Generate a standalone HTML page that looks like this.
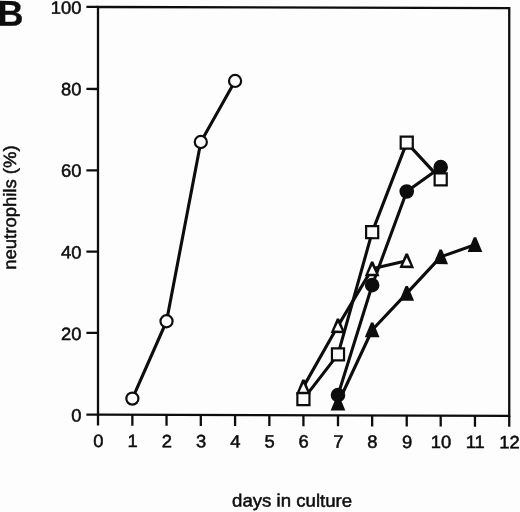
<!DOCTYPE html>
<html><head><meta charset="utf-8"><title>B</title>
<style>
html,body{margin:0;padding:0;background:#fdfdfd;overflow:hidden;}
svg{display:block;}
text{font-family:"Liberation Sans",sans-serif;fill:#0d0d0d;stroke:#0d0d0d;stroke-width:0.5px;}
.t{font-size:17.8px;}
.l{font-size:17.8px;}
.ax{stroke:#0d0d0d;stroke-width:2.3;fill:none;stroke-linecap:butt;}
.ln{stroke:#0d0d0d;stroke-width:3.1;fill:none;stroke-linejoin:round;}
.o{stroke:#0d0d0d;stroke-width:2.2;fill:#fdfdfd;}
.f{stroke:none;fill:#0d0d0d;}
.w{stroke:none;fill:#fdfdfd;}
</style></head><body>
<svg width="520" height="512" viewBox="0 0 520 512">
<rect width="520" height="512" fill="#fdfdfd"/>
<g transform="matrix(1 0.0029 0 1 0 -0.28)">

<rect class="ax" x="98.0" y="7.0" width="411.25" height="407.6"/>
<line class="ax" x1="98.00" y1="414.6" x2="98.00" y2="425.6"/>
<text class="t" transform="translate(98.30,447.0) scale(1.035,1)" text-anchor="middle">0</text>
<line class="ax" x1="132.37" y1="414.6" x2="132.37" y2="425.6"/>
<text class="t" transform="translate(132.67,447.0) scale(1.035,1)" text-anchor="middle">1</text>
<line class="ax" x1="166.54" y1="414.6" x2="166.54" y2="425.6"/>
<text class="t" transform="translate(166.84,447.0) scale(1.035,1)" text-anchor="middle">2</text>
<line class="ax" x1="200.81" y1="414.6" x2="200.81" y2="425.6"/>
<text class="t" transform="translate(201.11,447.0) scale(1.035,1)" text-anchor="middle">3</text>
<line class="ax" x1="235.08" y1="414.6" x2="235.08" y2="425.6"/>
<text class="t" transform="translate(235.38,447.0) scale(1.035,1)" text-anchor="middle">4</text>
<line class="ax" x1="269.35" y1="414.6" x2="269.35" y2="425.6"/>
<text class="t" transform="translate(269.65,447.0) scale(1.035,1)" text-anchor="middle">5</text>
<line class="ax" x1="303.42" y1="414.6" x2="303.42" y2="425.6"/>
<text class="t" transform="translate(303.72,447.0) scale(1.035,1)" text-anchor="middle">6</text>
<line class="ax" x1="337.99" y1="414.6" x2="337.99" y2="425.6"/>
<text class="t" transform="translate(338.29,447.0) scale(1.035,1)" text-anchor="middle">7</text>
<line class="ax" x1="372.16" y1="414.6" x2="372.16" y2="425.6"/>
<text class="t" transform="translate(372.46,447.0) scale(1.035,1)" text-anchor="middle">8</text>
<line class="ax" x1="406.73" y1="414.6" x2="406.73" y2="425.6"/>
<text class="t" transform="translate(407.03,447.0) scale(1.035,1)" text-anchor="middle">9</text>
<line class="ax" x1="440.70" y1="414.6" x2="440.70" y2="425.6"/>
<text class="t" transform="translate(441.00,447.0) scale(1.035,1)" text-anchor="middle">10</text>
<line class="ax" x1="474.97" y1="414.6" x2="474.97" y2="425.6"/>
<text class="t" transform="translate(475.27,447.0) scale(1.035,1)" text-anchor="middle">11</text>
<line class="ax" x1="509.24" y1="414.6" x2="509.24" y2="425.6"/>
<text class="t" transform="translate(509.54,447.0) scale(1.035,1)" text-anchor="middle">12</text>
<line class="ax" x1="86.4" y1="414.60" x2="98.0" y2="414.60"/>
<text class="t" transform="translate(81.6,421.50) scale(1.035,1)" text-anchor="end">0</text>
<line class="ax" x1="86.4" y1="332.85" x2="98.0" y2="332.85"/>
<text class="t" transform="translate(81.6,339.98) scale(1.035,1)" text-anchor="end">20</text>
<line class="ax" x1="86.4" y1="251.60" x2="98.0" y2="251.60"/>
<text class="t" transform="translate(81.6,258.46) scale(1.035,1)" text-anchor="end">40</text>
<line class="ax" x1="86.4" y1="170.40" x2="98.0" y2="170.40"/>
<text class="t" transform="translate(81.6,176.94) scale(1.035,1)" text-anchor="end">60</text>
<line class="ax" x1="86.4" y1="89.00" x2="98.0" y2="89.00"/>
<text class="t" transform="translate(81.6,95.42) scale(1.035,1)" text-anchor="end">80</text>
<line class="ax" x1="86.4" y1="6.95" x2="98.0" y2="6.95"/>
<text class="t" transform="translate(81.6,13.90) scale(1.035,1)" text-anchor="end">100</text>
<text x="-2.4" y="26.1" style="font-size:36px;font-weight:bold;stroke-width:0.3px">B</text>
<text class="l" transform="translate(292.1,506.0) scale(1.047,1)" text-anchor="middle">days in culture</text>
<text class="l" transform="translate(16.3,207.8) rotate(-90) scale(1.04,1)" text-anchor="middle">neutrophils (%)</text>
<path class="ln" d="M337.99 402.57L372.16 329.20L406.73 292.52L440.70 255.84L474.97 243.61"/>
<path class="ln" d="M303.42 386.27L337.99 325.13L372.16 268.06L406.73 259.91"/>
<path class="ln" d="M337.99 394.42L372.16 284.37L406.73 190.62L440.70 166.16"/>
<path class="ln" d="M303.42 398.50L337.99 353.66L372.16 231.38L406.73 141.71L440.70 178.39"/>
<path class="ln" d="M132.37 398.50L166.54 321.05L200.81 141.71L235.08 80.57"/>
<path class="f" d="M336.79 395.17L339.19 395.17L345.34 409.87L330.64 409.87Z"/>
<path class="f" d="M370.96 321.80L373.36 321.80L379.51 336.50L364.81 336.50Z"/>
<path class="f" d="M405.53 285.12L407.93 285.12L414.08 299.82L399.38 299.82Z"/>
<path class="f" d="M439.50 248.44L441.90 248.44L448.05 263.14L433.35 263.14Z"/>
<path class="f" d="M473.77 236.21L476.17 236.21L482.32 250.91L467.62 250.91Z"/>
<path class="f" d="M302.22 378.87L304.62 378.87L310.77 393.57L296.07 393.57Z"/><path class="w" d="M303.42 383.07L307.22 391.07L299.62 391.07Z"/>
<path class="f" d="M336.79 317.73L339.19 317.73L345.34 332.43L330.64 332.43Z"/><path class="w" d="M337.99 321.93L341.79 329.93L334.19 329.93Z"/>
<path class="f" d="M370.96 260.66L373.36 260.66L379.51 275.36L364.81 275.36Z"/><path class="w" d="M372.16 264.86L375.96 272.86L368.36 272.86Z"/>
<path class="f" d="M405.53 252.51L407.93 252.51L414.08 267.21L399.38 267.21Z"/><path class="w" d="M406.73 256.71L410.53 264.71L402.93 264.71Z"/>
<circle class="f" cx="337.99" cy="394.42" r="7.3"/>
<circle class="f" cx="372.16" cy="284.37" r="7.3"/>
<circle class="f" cx="406.73" cy="190.62" r="7.3"/>
<circle class="f" cx="440.70" cy="166.16" r="7.3"/>
<rect class="o" x="297.37" y="392.45" width="12.1" height="12.1"/>
<rect class="o" x="331.94" y="347.61" width="12.1" height="12.1"/>
<rect class="o" x="366.11" y="225.33" width="12.1" height="12.1"/>
<rect class="o" x="400.68" y="135.66" width="12.1" height="12.1"/>
<rect class="o" x="434.65" y="172.34" width="12.1" height="12.1"/>
<circle class="o" cx="132.37" cy="398.50" r="6.05"/>
<circle class="o" cx="166.54" cy="321.05" r="6.05"/>
<circle class="o" cx="200.81" cy="141.71" r="6.05"/>
<circle class="o" cx="235.08" cy="80.57" r="6.05"/>
</g></svg></body></html>
